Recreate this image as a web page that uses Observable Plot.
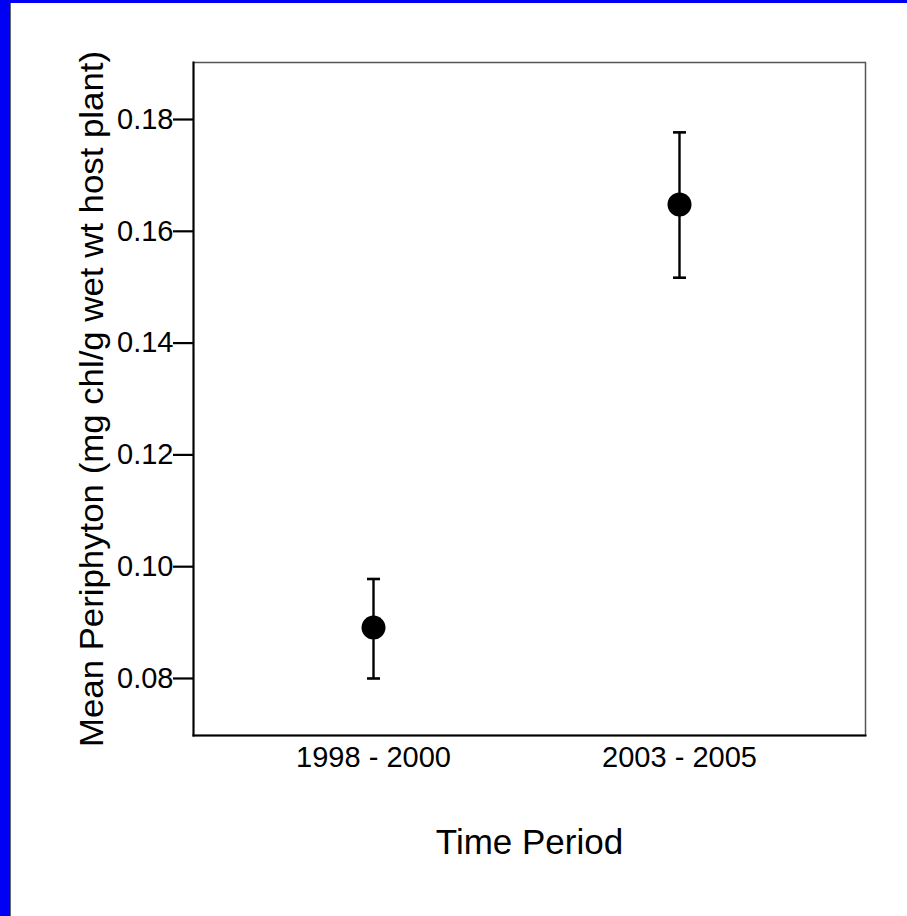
<!DOCTYPE html>
<html>
<head>
<meta charset="utf-8">
<script src="https://cdn.jsdelivr.net/npm/d3@7"></script>
<script src="https://cdn.jsdelivr.net/npm/@observablehq/plot@0.6"></script>
<style>
  html, body { margin: 0; padding: 0; background: #fff; }
  #wrap { position: relative; width: 907px; height: 916px; overflow: hidden; }
  #bl { position: absolute; left: 0; top: 0; width: 11px; height: 916px; background: #0000f5; border-right: 1px solid #666; box-sizing: border-box; }
  #bt { position: absolute; left: 0; top: 0; width: 907px; height: 3px; background: #0000f5; }
  svg { display: block; }
</style>
</head>
<body>
<div id="wrap"><div id="chart"></div><div id="bl"></div><div id="bt"></div></div>
<script>
const periods = ["1998 - 2000", "2003 - 2005"];
const means = [0.0891, 0.1648];
const lower = [0.0800, 0.1517];
const upper = [0.0978, 0.1777];
const yTicks = [0.08, 0.10, 0.12, 0.14, 0.16, 0.18];
const yDomain = [0.0698, 0.1902];
const yLabel = "Mean Periphyton (mg chl/g wet wt host plant)";
const xLabel = "Time Period";

const data = periods.map((p, i) => ({period: p, mean: means[i], lo: lower[i], hi: upper[i]}));
const font = "Liberation Sans, Arial, Helvetica, sans-serif";
const capSymbol = {draw(context) { context.moveTo(-6.5, 0); context.lineTo(6.5, 0); }};

const chart = Plot.plot({
  width: 907,
  height: 916,
  marginLeft: 193,
  marginRight: 42,
  marginTop: 62,
  marginBottom: 181,
  style: {fontFamily: font, background: "white", color: "black"},
  x: {type: "point", domain: periods, padding: 0, insetLeft: 180, insetRight: 186, axis: null},
  y: {domain: yDomain, axis: null},
  marks: [
    Plot.frame({stroke: "#555", strokeWidth: 1.5}),
    Plot.frame({anchor: "left", stroke: "black", strokeWidth: 2}),
    Plot.frame({anchor: "bottom", stroke: "black", strokeWidth: 2}),
    Plot.axisY({ticks: yTicks, tickFormat: d3.format(".2f"), tickSize: 20, tickPadding: 0, fontSize: 29, strokeWidth: 2.2, label: null}),
    Plot.axisX({tickSize: 0, tickPadding: 11, fontSize: 29, label: null}),
    Plot.ruleX(data, {x: "period", y1: "lo", y2: "hi", stroke: "black", strokeWidth: 2.4}),
    Plot.dot(data, {x: "period", y: "hi", symbol: capSymbol, stroke: "black", fill: "none", strokeWidth: 2.6}),
    Plot.dot(data, {x: "period", y: "lo", symbol: capSymbol, stroke: "black", fill: "none", strokeWidth: 2.6}),
    Plot.dot(data, {x: "period", y: "mean", r: 12, fill: "black", stroke: "none"}),
    Plot.text([yLabel], {frameAnchor: "left", rotate: -90, dx: -114, lineAnchor: "top", textAnchor: "middle", fontSize: 33, fill: "black"}),
    Plot.text([xLabel], {frameAnchor: "bottom", dy: 118, lineAnchor: "bottom", textAnchor: "middle", fontSize: 35, fill: "black"})
  ]
});
document.getElementById("chart").appendChild(chart);
d3.select(chart).selectAll("text").filter(function() { return this.textContent === yLabel; })
  .attr("textLength", 696).attr("lengthAdjust", "spacingAndGlyphs");
</script>
</body>
</html>
